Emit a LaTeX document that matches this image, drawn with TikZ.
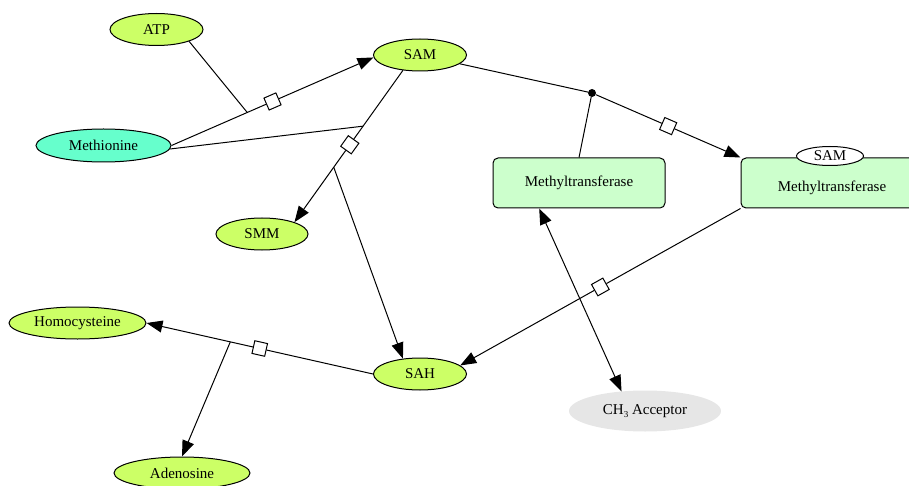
\documentclass[tikz,border=0pt]{standalone}
\usepackage{fontspec}
\setmainfont{Liberation Serif}
\usetikzlibrary{shapes.geometric,arrows.meta,calc}
\definecolor{ylg}{HTML}{CCFF66}
\definecolor{aqua}{HTML}{66FFCC}
\definecolor{mtg}{HTML}{CCFFCC}
\definecolor{accg}{HTML}{E6E6E6}
\tikzset{
  every node/.style={font=\fontsize{15}{18}\selectfont},
  species/.style={ellipse, draw=black, line width=1pt, fill=ylg, inner sep=0pt, minimum width=93pt, minimum height=32pt},
  enzyme/.style={rectangle, rounded corners=5pt, draw=black, line width=1pt, fill=mtg, inner sep=0pt, minimum height=50pt},
  unitinfo/.style={ellipse, draw=black, line width=1pt, fill=white, inner sep=0pt, minimum width=67pt, minimum height=19pt},
  proc/.style={rectangle, draw=black, line width=1pt, fill=white, inner sep=0pt, minimum size=13pt},
  conn/.style={draw=black, line width=1pt},
  arr/.style={conn, -{Triangle[length=16pt,width=12pt]}},
  dbl/.style={conn, {Triangle[length=16pt,width=12pt]}-{Triangle[length=16pt,width=12pt]}},
}
\begin{document}
\begin{tikzpicture}[x=1pt,y=-1pt]
\useasboundingbox (0,0) rectangle (909,486);
\clip (0,0) rectangle (909,486);

% species
\node[species] (atp) at (156.5,29.5) {ATP};
\node[species] (sam) at (420,55) {SAM};
\node[species, fill=aqua, minimum width=135pt, minimum height=33pt] (meth) at (103.5,145.5) {Methionine};
\node[species, minimum width=92pt] (smm) at (262,234) {SMM};
\node[species, minimum width=137pt] (hc) at (77.5,323) {Homocysteine};
\node[species] (sah) at (420,374) {SAH};
\node[species, minimum width=136pt] (aden) at (182,473) {Adenosine};
\node[ellipse, fill=accg, inner sep=0pt, minimum width=152pt, minimum height=41pt] (acc) at (645,411) {CH\raisebox{-3pt}{\fontsize{9}{10}\selectfont 3} Acceptor};

% enzymes
\node[enzyme, minimum width=172pt, text height=10.5pt, text depth=3.5pt] (mt1) at (579,183) {Methyltransferase};
\node[enzyme, minimum width=182pt, text height=20.5pt, text depth=3.5pt] (mt2) at (832,183) {Methyltransferase};
\node[unitinfo] (saminfo) at (830,156) {SAM};

% dot
\node[circle, fill=black, inner sep=0pt, minimum size=8pt] (dot) at (592,93) {};

% process nodes
\path (meth.east) -- (sam.183) node[proc, sloped, pos=0.5] (p1) {};
\path (sam.222) -- (smm.20) node[proc, sloped, pos=0.49] (p2) {};
\path (sah.west) -- (hc.east) node[proc, sloped, pos=0.5] (p3) {};
\path (dot) -- (mt2.north west) node[proc, sloped, pos=0.5] (p4) {};
\path (mt2.south west) -- (sah.12) node[proc, sloped, pos=0.5] (p5) {};

% junctions
\coordinate (j1) at ($(meth.east)!0.75!(p1)$);
\coordinate (j2) at ($(sam.222)!0.75!(p2)$);
\coordinate (j3) at ($(p2)!0.29!(smm.20)$);
\coordinate (j4) at ($(sah.west)!0.63!(hc.east)$);

% Methionine + ATP -> SAM
\draw[conn] (meth.east) -- (p1);
\draw[arr] (p1) -- (sam.183);
\draw[conn] (atp.-20) -- (j1);

% SAM + Methionine -> SMM + SAH
\draw[conn] (sam.222) -- (p2);
\draw[arr] (p2) -- (smm.20);
\draw[conn] (meth.-3) -- (j2);
\draw[arr] (j3) -- (sah.138);

% SAM -> Methyltransferase(SAM)
\draw[conn] (sam) -- (dot);
\draw[conn] (mt1.north) -- (dot);
\draw[conn] (dot) -- (p4);
\draw[arr] (p4) -- (mt2.north west);

% Methyltransferase(SAM) -> SAH
\draw[conn] (mt2.south west) -- (p5);
\draw[arr] (p5) -- (sah.12);

% Methyltransferase <-> CH3 Acceptor
\draw[dbl] ($(mt1.south west)!0.27!(mt1.south east)$) -- (acc.140);

% SAH -> Homocysteine + Adenosine
\draw[conn] (sah.west) -- (p3);
\draw[arr] (p3) -- (hc.east);
\draw[arr] (j4) -- (aden.north);

\end{tikzpicture}
\end{document}
